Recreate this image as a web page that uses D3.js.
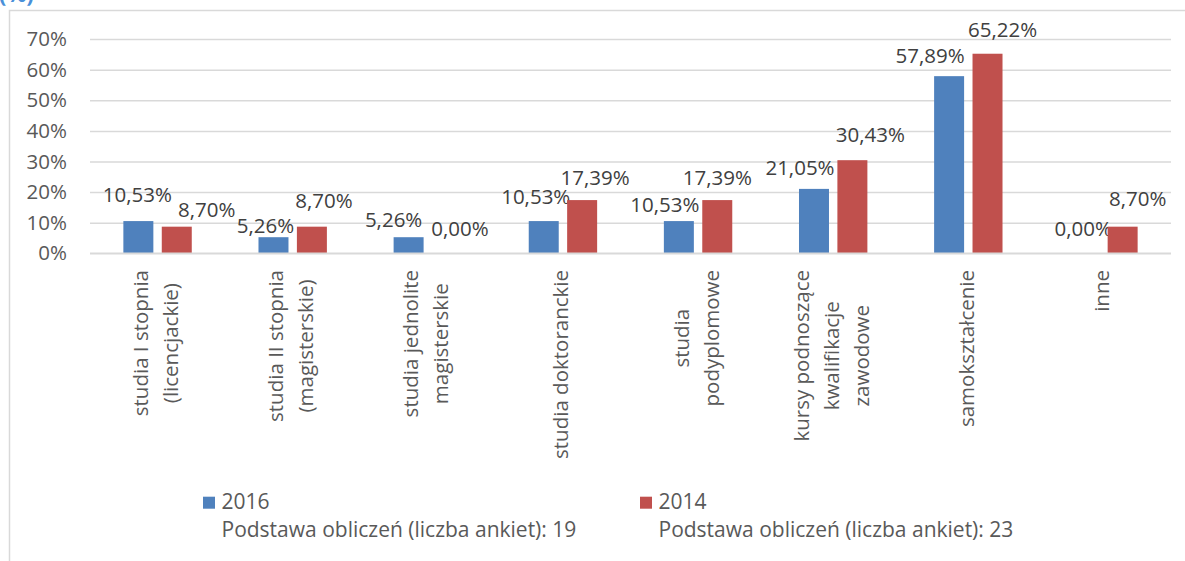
<!DOCTYPE html>
<html>
<head>
<meta charset="utf-8">
<script src="https://cdn.jsdelivr.net/npm/d3@7"></script>
<style>
    body { margin: 0; background: #fff; }
    svg text { font-family: "Open Sans", sans-serif; }
</style>
</head>
<body>
<svg id="chart"></svg>
<script>
// categories, one line of the rotated label per "\n"
const categories = [
    "studia I stopnia\n(licencjackie)",
    "studia II stopnia\n(magisterskie)",
    "studia jednolite\nmagisterskie",
    "studia doktoranckie",
    "studia\npodyplomowe",
    "kursy podnoszące\nkwalifikacje\nzawodowe",
    "samokształcenie",
    "inne"
];
const seriesNames = ["2016", "2014"];
const values2016 = [10.53, 5.26, 5.26, 10.53, 10.53, 21.05, 57.89, 0.00];
const values2014 = [8.70, 8.70, 0.00, 17.39, 17.39, 30.43, 65.22, 8.70];
const sampleNotes = [
    "Podstawa obliczeń (liczba ankiet): 19",
    "Podstawa obliczeń (liczba ankiet): 23"
];
const yTicks = [0, 10, 20, 30, 40, 50, 60, 70];

// Excel pushed the overlapping data labels around: [dx from bar centre, baseline above bar top]
const labelShift2016 = [[-1, 19], [-8, 4], [-15, 10], [-8, 17], [-14, 9], [-14, 14], [-19, 13], [-1, 17]];
const labelShift2014 = [[30, 10], [12, 19], [13, 17], [13, 15], [0, 15], [18, 18], [15, 17], [15, 21]];

const colors = {"2016": "#4F81BD", "2014": "#C0504D"};

let svg = d3.select("#chart")
    .attr("width", 1185)
    .attr("height", 561);

let plot = {left: 90, right: 1171, top: 39.1, bottom: 253.3};
let fontSize = 20.5;

// outer chart border (runs off the picture at right and bottom)
svg.append("rect")
    .attr("x", 9.5).attr("y", 10.5)
    .attr("width", 1200).attr("height", 600)
    .attr("fill", "none")
    .attr("stroke", "#d9d9d9")
    .attr("stroke-width", 1.5);

// title, mostly cropped away at the top
svg.append("text")
    .attr("x", -1).attr("y", 2)
    .attr("fill", "#4A90D9")
    .attr("font-weight", "bold")
    .attr("font-size", 22)
    .text("(%)");

let x = d3.scaleBand()
    .domain(categories)
    .range([plot.left, plot.right]);

let groupWidth = 68.4;
let xSub = d3.scaleBand()
    .domain(seriesNames)
    .range([0, groupWidth])
    .paddingInner(0.219);

let y = d3.scaleLinear()
    .domain([0, 70])
    .range([plot.bottom, plot.top]);

// y axis with gridlines
let yAxis = svg.append("g")
    .attr("transform", "translate(" + plot.left + ",0)")
    .call(d3.axisLeft(y)
        .tickValues(yTicks)
        .tickSize(-(plot.right - plot.left))
        .tickPadding(23)
        .tickFormat(d => d + "%"));
yAxis.select(".domain").remove();
yAxis.selectAll(".tick line")
    .attr("stroke", "#d9d9d9")
    .attr("stroke-width", 1.5);
yAxis.selectAll(".tick text")
    .attr("fill", "#595959")
    .attr("font-size", fontSize)
    .attr("font-family", "Open Sans, sans-serif");

let series = [
    {name: "2016", values: values2016, shift: labelShift2016},
    {name: "2014", values: values2014, shift: labelShift2014}
];

let fmt = d3.format(".2f");
let barX = (i, name) => x(categories[i]) + x.bandwidth() / 2 - groupWidth / 2 + xSub(name);

for (let s of series) {
    svg.append("g")
        .selectAll("rect")
        .data(s.values)
        .enter()
        .append("rect")
            .attr("x", (d, i) => barX(i, s.name))
            .attr("y", d => y(d))
            .attr("width", xSub.bandwidth())
            .attr("height", d => y(0) - y(d))
            .attr("fill", colors[s.name]);

    svg.append("g")
        .selectAll("text")
        .data(s.values)
        .enter()
        .append("text")
            .attr("x", (d, i) => barX(i, s.name) + xSub.bandwidth() / 2 + s.shift[i][0])
            .attr("y", (d, i) => y(d) - s.shift[i][1])
            .attr("text-anchor", "middle")
            .attr("font-size", fontSize)
            .attr("fill", "#404040")
            .text(d => fmt(d).replace(".", ",") + "%");
}

// redraw the zero line above the bars
svg.append("line")
    .attr("x1", plot.left).attr("x2", plot.right)
    .attr("y1", y(0)).attr("y2", y(0))
    .attr("stroke", "#d9d9d9")
    .attr("stroke-width", 1.5);

// rotated category labels, lines centred on each other, top-aligned under the axis
let labelTop = 270;
let lineGap = 30;
let ticks = svg.append("g")
    .selectAll("g")
    .data(categories)
    .enter()
    .append("g")
        .attr("transform", d => "translate(" + (x(d) + x.bandwidth() / 2) + "," + labelTop + ") rotate(-90)");

ticks.each(function(d) {
    let g = d3.select(this);
    let lines = d.split("\n");
    let texts = g.selectAll("text")
        .data(lines)
        .enter()
        .append("text")
            .attr("y", (l, i) => (i - (lines.length - 1) / 2) * lineGap + fontSize * 0.27)
            .attr("text-anchor", "middle")
            .attr("font-size", fontSize)
            .attr("fill", "#595959")
            .text(l => l);
    let maxW = d3.max(texts.nodes(), n => n.getComputedTextLength());
    texts.attr("x", -maxW / 2);
});

// legend
let legendX = [203, 640];
series.forEach((s, i) => {
    let lg = svg.append("g");
    lg.append("rect")
        .attr("x", legendX[i]).attr("y", 496.7)
        .attr("width", 12).attr("height", 12)
        .attr("fill", colors[s.name]);
    lg.append("text")
        .attr("x", legendX[i] + 18.5).attr("y", 509)
        .attr("font-size", 21)
        .attr("fill", "#595959")
        .text(s.name);
    lg.append("text")
        .attr("x", legendX[i] + 18.5).attr("y", 537)
        .attr("font-size", 21)
        .attr("fill", "#595959")
        .text(sampleNotes[i]);
});
</script>
</body>
</html>
